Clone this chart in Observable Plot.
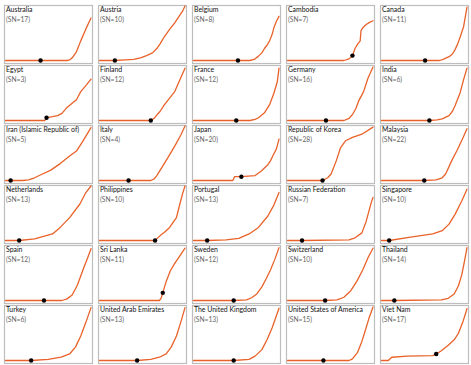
<!DOCTYPE html>
<html>
<head>
<meta charset="utf-8">
<script src="https://cdn.jsdelivr.net/npm/d3@7"></script>
<script src="https://cdn.jsdelivr.net/npm/@observablehq/plot@0.6"></script>
<style>
  html, body { margin: 0; padding: 0; background: #fff; }
  #chart svg { display: block; }
</style>
</head>
<body>
<div id="chart"></div>
<script>
// Countries in reading order (5 columns x 6 rows)
const countries = [
  "Australia", "Austria", "Belgium", "Cambodia", "Canada",
  "Egypt", "Finland", "France", "Germany", "India",
  "Iran (Islamic Republic of)", "Italy", "Japan", "Republic of Korea", "Malaysia",
  "Netherlands", "Philippines", "Portugal", "Russian Federation", "Singapore",
  "Spain", "Sri Lanka", "Sweden", "Switzerland", "Thailand",
  "Turkey", "United Arab Emirates", "The United Kingdom", "United States of America", "Viet Nam"
];
const sn = [17, 10, 8, 7, 11, 3, 12, 12, 16, 6, 5, 4, 20, 28, 22, 13, 10, 13, 7, 10, 12, 11, 12, 10, 14, 6, 13, 13, 15, 17];

// Curves: [time %, value % of panel height]
const curves = [
  [[0,0],[72,0],[75,1],[78,5],[83,16],[88,36],[94,58],[100,78]],
  [[0,0],[18,0],[30,1],[40,2],[48,5],[55,9],[62,14],[67,22],[71,31],[76,44],[82,57],[88,69],[93,81],[97,90],[100,100]],
  [[0,0],[52,0],[66,0],[71,2],[76,8],[80,14],[83,22],[86,28],[89,36],[92,48],[94,60],[97,72],[100,81]],
  [[0,0],[66,0],[72,3],[76,9],[79,22],[82,30],[85,36],[86,55],[88,60],[92,66],[96,70],[100,73]],
  [[0,0],[51,0],[68,0],[72,2],[79,7],[83,12],[86,20],[89,30],[92,43],[96,62],[100,98]],
  [[0,0],[46,0],[48,5],[55,7],[61,9],[66,13],[72,24],[79,33],[83,38],[85,44],[88,53],[94,64],[100,76]],
  [[0,0],[60,0],[64,4],[67,10],[71,17],[76,29],[82,41],[88,53],[93,71],[100,96]],
  [[0,0],[50,0],[66,0],[72,2],[76,5],[83,14],[89,29],[94,50],[98,71],[100,96]],
  [[0,0],[45,0],[66,0],[72,4],[76,11],[80,22],[83,35],[89,53],[94,77],[100,98]],
  [[0,0],[56,0],[65,1],[71,3],[79,9],[83,17],[86,27],[92,51],[96,75],[100,96]],
  [[0,0],[6,0],[20,0],[27,1],[34,5],[42,11],[53,19],[64,31],[75,45],[83,54],[90,71],[100,97]],
  [[0,0],[34,0],[60,0],[64,3],[67,9],[73,24],[80,42],[88,63],[95,83],[100,100]],
  [[0,0],[46,0],[48,7],[56,7],[72,9],[79,17],[87,29],[90,36],[93,46],[97,58],[100,76]],
  [[0,0],[41,0],[47,5],[51,12],[57,36],[62,60],[68,73],[76,79],[87,85],[100,98]],
  [[0,0],[50,0],[64,1],[71,5],[75,12],[82,36],[88,54],[94,74],[100,95]],
  [[0,0],[16,0],[34,3],[55,12],[64,24],[75,42],[87,67],[94,88],[100,100]],
  [[0,0],[65,0],[67,3],[71,9],[76,15],[82,24],[90,42],[93,61],[97,85],[100,100]],
  [[0,0],[16,0],[38,1],[53,4],[65,12],[76,24],[87,45],[94,65],[100,88]],
  [[0,0],[17,0],[72,1],[79,5],[87,14],[92,35],[98,70],[100,79]],
  [[0,0],[9,0],[34,6],[60,12],[71,18],[79,30],[86,48],[94,73],[100,94]],
  [[0,0],[45,0],[66,0],[72,3],[78,10],[84,28],[88,45],[92,62],[96,78],[100,95]],
  [[0,0],[70,0],[72,4],[74,14],[78,35],[83,55],[88,68],[94,82],[100,96]],
  [[0,0],[47,0],[62,1],[68,5],[74,12],[80,25],[85,40],[90,56],[95,75],[100,97]],
  [[0,0],[44,0],[58,1],[66,6],[74,18],[81,35],[88,56],[94,78],[100,96]],
  [[0,0],[15,0],[70,1],[78,4],[85,12],[90,27],[94,48],[97,72],[100,97]],
  [[0,0],[30,0],[50,2],[65,6],[75,12],[82,25],[88,45],[94,70],[100,97]],
  [[0,0],[44,0],[60,2],[70,6],[78,12],[84,25],[90,45],[95,70],[100,97]],
  [[0,0],[47,0],[65,2],[72,8],[80,20],[86,38],[92,60],[96,78],[100,96]],
  [[0,0],[42,0],[72,0],[76,3],[82,15],[87,35],[91,55],[95,76],[100,98]],
  [[0,0],[8,0],[12,6],[30,8],[60,9],[64,12],[70,18],[78,28],[85,38],[90,50],[95,70],[100,95]]
];

// Marker (black dot) position per country
const dotX = [41, 18, 52, 76, 51, 48, 60, 50, 45, 56, 6, 34, 56, 41, 50, 16, 65, 16, 17, 9, 45, 74, 47, 44, 15, 30, 44, 47, 42, 64];
const dotY = [0, 0, 0, 9, 0, 5, 0, 0, 0, 0, 0, 0, 7, 0, 0, 0, 0, 0, 0, 0, 0, 14, 0, 0, 0, 0, 0, 0, 0, 12];

const NCOL = 5;
const lineData = countries.flatMap((c, i) =>
  curves[i].map(([x, y]) => ({country: c, col: i % NCOL, row: Math.floor(i / NCOL), x, y})));
const panels = countries.map((c, i) => ({
  country: c, label: `(SN=${sn[i]})`, col: i % NCOL, row: Math.floor(i / NCOL), px: dotX[i], py: dotY[i]
}));

const chart = Plot.plot({
  width: 471,
  height: 365,
  marginTop: 3,
  marginBottom: 1,
  marginLeft: 3,
  marginRight: 2,
  fx: {axis: null, paddingInner: 0.06, paddingOuter: 0},
  fy: {axis: null, paddingInner: 0.035, paddingOuter: 0},
  x: {domain: [0, 100], axis: null, insetLeft: 1, insetRight: 1.5},
  y: {domain: [0, 100], axis: null, insetBottom: 3, insetTop: 0.5},
  style: {fontFamily: "Lato, 'Open Sans', sans-serif", background: "white"},
  marks: [
    Plot.frame({stroke: "#bdbdbd", strokeWidth: 1.2}),
    Plot.line(lineData, {x: "x", y: "y", z: "country", fx: "col", fy: "row",
      stroke: "#e9622a", strokeWidth: 1.3}),
    Plot.dot(panels, {x: "px", y: "py", fx: "col", fy: "row", r: 2.2, fill: "black"}),
    Plot.text(panels, {text: "country", fx: "col", fy: "row", frameAnchor: "top-left",
      dx: 1.5, dy: 2, fontSize: 6.9, fill: "#111"}),
    Plot.text(panels, {text: "label", fx: "col", fy: "row", frameAnchor: "top-left",
      dx: 1.5, dy: 11.5, fontSize: 6.7, fill: "#666"})
  ]
});
document.getElementById("chart").appendChild(chart);
</script>
</body>
</html>
